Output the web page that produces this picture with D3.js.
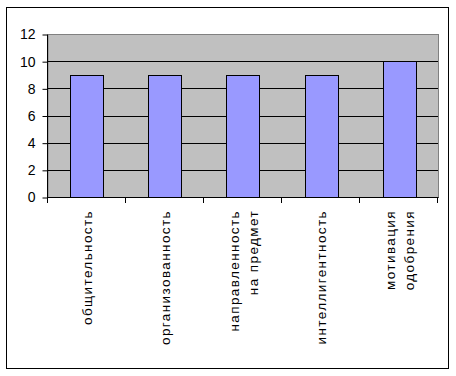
<!DOCTYPE html>
<html>
<head>
<meta charset="utf-8">
<script src="https://cdn.jsdelivr.net/npm/d3@7"></script>
<style>
  body { margin: 0; background: #fff; }
  svg { display: block; }
</style>
</head>
<body>
<script>
// categories and values
var categories = ["общительность", "организованность", "направленность\nна предмет", "интеллигентность", "мотивация\nодобрения"];
var values = [9, 9, 9, 9, 10];
var yTicks = [0, 2, 4, 6, 8, 10, 12];

var outerWidth = 456,
    outerHeight = 376;

var plot = { left: 48, top: 34, right: 438, bottom: 197 };

var svg = d3.select("body")
    .append("svg")
    .attr("width", outerWidth)
    .attr("height", outerHeight);

// chart frame
svg.append("rect")
    .attr("x", 6.5)
    .attr("y", 7.5)
    .attr("width", 442)
    .attr("height", 361)
    .attr("fill", "#fff")
    .attr("stroke", "#000")
    .attr("stroke-width", 1);

var x = d3.scaleBand()
    .domain(categories)
    .range([plot.left, plot.right])
    .paddingInner(0.577)
    .paddingOuter(0.282);

var y = d3.scaleLinear()
    .domain([0, 12])
    .range([plot.bottom, plot.top]);

// plot area
svg.append("rect")
    .attr("x", plot.left)
    .attr("y", plot.top + 0.5)
    .attr("width", plot.right - plot.left + 0.5)
    .attr("height", plot.bottom - plot.top)
    .attr("fill", "#c0c0c0")
    .attr("stroke", "#808080")
    .attr("stroke-width", 1);

// gridlines (not at the top)
svg.selectAll(".grid")
    .data(yTicks.filter(function(d) { return d > 0 && d < 12; }))
    .enter().append("line")
    .attr("x1", plot.left)
    .attr("x2", plot.right)
    .attr("y1", function(d) { return Math.round(y(d)) + 0.5; })
    .attr("y2", function(d) { return Math.round(y(d)) + 0.5; })
    .attr("stroke", "#000");

// bars
svg.selectAll(".bar")
    .data(values)
    .enter().append("rect")
    .attr("x", function(d, i) { return Math.round(x(categories[i])) + 0.5; })
    .attr("y", function(d) { return Math.round(y(d)) + 0.5; })
    .attr("width", Math.round(x.bandwidth()))
    .attr("height", function(d) { return Math.round(y(0)) - Math.round(y(d)); })
    .attr("fill", "#9999ff")
    .attr("stroke", "#000");

// y axis
var yAxis = d3.axisLeft(y).tickValues(yTicks).tickSize(5).tickPadding(7);
var gy = svg.append("g")
    .attr("transform", "translate(" + (plot.left - 0.5) + ",0.5)")
    .call(yAxis);
gy.select(".domain").attr("d", "M0," + plot.top + "V" + plot.bottom);
gy.selectAll("line").attr("stroke", "#000");
gy.selectAll("text")
    .attr("font-family", "'Liberation Sans', Arial, sans-serif")
    .attr("font-size", "14px")
    .attr("fill", "#000");

// x axis: ticks at category boundaries
var bounds = d3.range(categories.length + 1).map(function(i) {
    return plot.left + i * (plot.right - plot.left) / categories.length;
});
svg.append("line")
    .attr("x1", plot.left - 0.5)
    .attr("x2", plot.right + 0.5)
    .attr("y1", plot.bottom + 0.5)
    .attr("y2", plot.bottom + 0.5)
    .attr("stroke", "#000");
svg.selectAll(".xtick")
    .data(bounds)
    .enter().append("line")
    .attr("x1", function(d) { return Math.round(d) - 0.5; })
    .attr("x2", function(d) { return Math.round(d) - 0.5; })
    .attr("y1", plot.bottom)
    .attr("y2", plot.bottom + 6)
    .attr("stroke", "#000");

// rotated category labels
var lineGap = 19;
categories.forEach(function(c, i) {
    var lines = c.split("\n");
    var cx = x(c) + x.bandwidth() / 2;
    var t = svg.append("text")
        .attr("transform", "translate(" + cx + "," + 210 + ") rotate(-90)")
        .attr("text-anchor", "end")
        .attr("font-family", "'Liberation Sans', Arial, sans-serif")
        .attr("font-size", "13.5px")
        .attr("letter-spacing", "1.4px")
        .attr("fill", "#000");
    lines.forEach(function(l, j) {
        t.append("tspan")
            .attr("x", 0)
            .attr("y", (j - (lines.length - 1) / 2) * lineGap + 5)
            .text(l);
    });
});
</script>
</body>
</html>
